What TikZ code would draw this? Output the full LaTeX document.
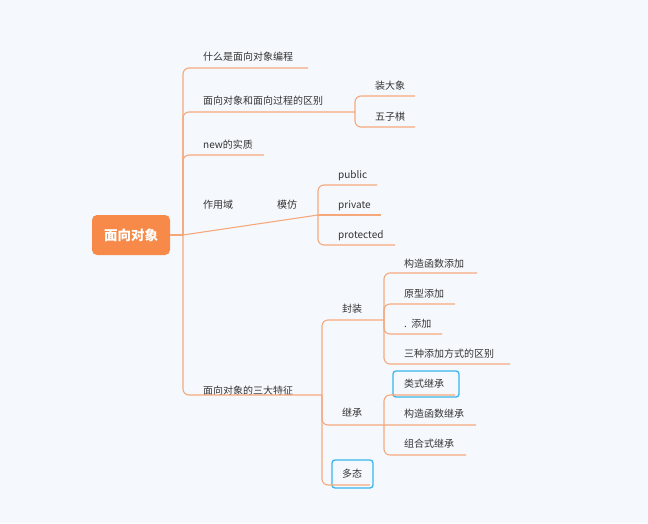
\documentclass[tikz,border=0pt]{standalone}
\usepackage{fontspec}
\setmainfont{Noto Sans CJK SC}
\begin{document}
\begin{tikzpicture}[x=1pt,y=-1pt,
  ln/.style={draw=lnc,line width=1.1pt,rounded corners=6pt},
  lbl/.style={anchor=base west,inner sep=0pt,text=txt,font=\fontsize{10}{12}\selectfont},
  bbox/.style={draw=bluec,line width=1.3pt,rounded corners=3pt}]
\definecolor{lnc}{HTML}{F5A87C}
\definecolor{txt}{HTML}{333333}
\definecolor{bluec}{HTML}{3BB4EC}
\definecolor{bg}{HTML}{F5F9FD}
\definecolor{rootc}{HTML}{F78A48}
\fill[bg] (0,0) rectangle (648,523);
\useasboundingbox (0,0) rectangle (648,523);
% root
\node[fill=rootc,rounded corners=5pt,minimum width=78pt,minimum height=40pt,text=white,font=\fontsize{13.5}{14}\selectfont\bfseries] (root) at (131,235) {面向对象};
\coordinate (t) at (183,235);
\draw[ln] (root.east) -- (t);
% level 1
\node[lbl] (a) at (203,60) {什么是面向对象编程};
\node[lbl] (b) at (203,104) {面向对象和面向过程的区别};
\node[lbl] (c) at (203,148) {new的实质};
\node[lbl] (d) at (203,208) {作用域};
\node[lbl] (d2) at (277,208) {模仿};
\node[lbl] (e) at (203,394) {面向对象的三大特征};
\draw[ln] (t) |- (308,68);
\draw[ln] (t) |- (355,112);
\draw[ln] (t) |- (264,155);
\draw[ln] (t) -- (318,215);
\draw[ln] (t) |- (322,395);
% b children
\node[lbl] (b1) at (375,89) {装大象};
\node[lbl] (b2) at (375,120) {五子棋};
\draw[ln] (355,112) |- (415,96);
\draw[ln] (355,112) |- (415,127);
% d children
\node[lbl] (d3) at (338,178) {public};
\node[lbl] (d4) at (338,208) {private};
\node[lbl] (d5) at (338,238) {protected};
\draw[ln] (318,215) |- (377,185);
\draw[ln] (318,215) -- (381,215);
\draw[ln] (318,215) |- (395,245);
% e children
\node[lbl] (f) at (342,312) {封装};
\node[lbl] (g) at (342,416) {继承};
\draw[bbox] (332,460) rectangle (373,488);
\node[lbl] (h) at (342,477) {多态};
\draw[ln] (322,395) |- (384,320);
\draw[ln] (322,395) |- (476,425);
\draw[ln] (322,395) |- (370,485);
% f children
\node[lbl] (f1) at (404,267) {构造函数添加};
\node[lbl] (f2) at (404,297) {原型添加};
\node[lbl] (f3) at (404,327) {.\ \ 添加};
\node[lbl] (f4) at (404,357) {三种添加方式的区别};
\draw[ln] (384,320) |- (477,273);
\draw[ln] (384,320) |- (455,304);
\draw[ln] (384,320) |- (442,334);
\draw[ln] (384,320) |- (510,364);
% g children
\draw[bbox] (393,371) rectangle (459,397);
\node[lbl] (g1) at (404,387) {类式继承};
\node[lbl] (g2) at (404,417) {构造函数继承};
\node[lbl] (g3) at (404,447) {组合式继承};
\draw[ln] (384,425) |- (455,395);
\draw[ln] (384,425) |- (466,455);
\end{tikzpicture}
\end{document}
